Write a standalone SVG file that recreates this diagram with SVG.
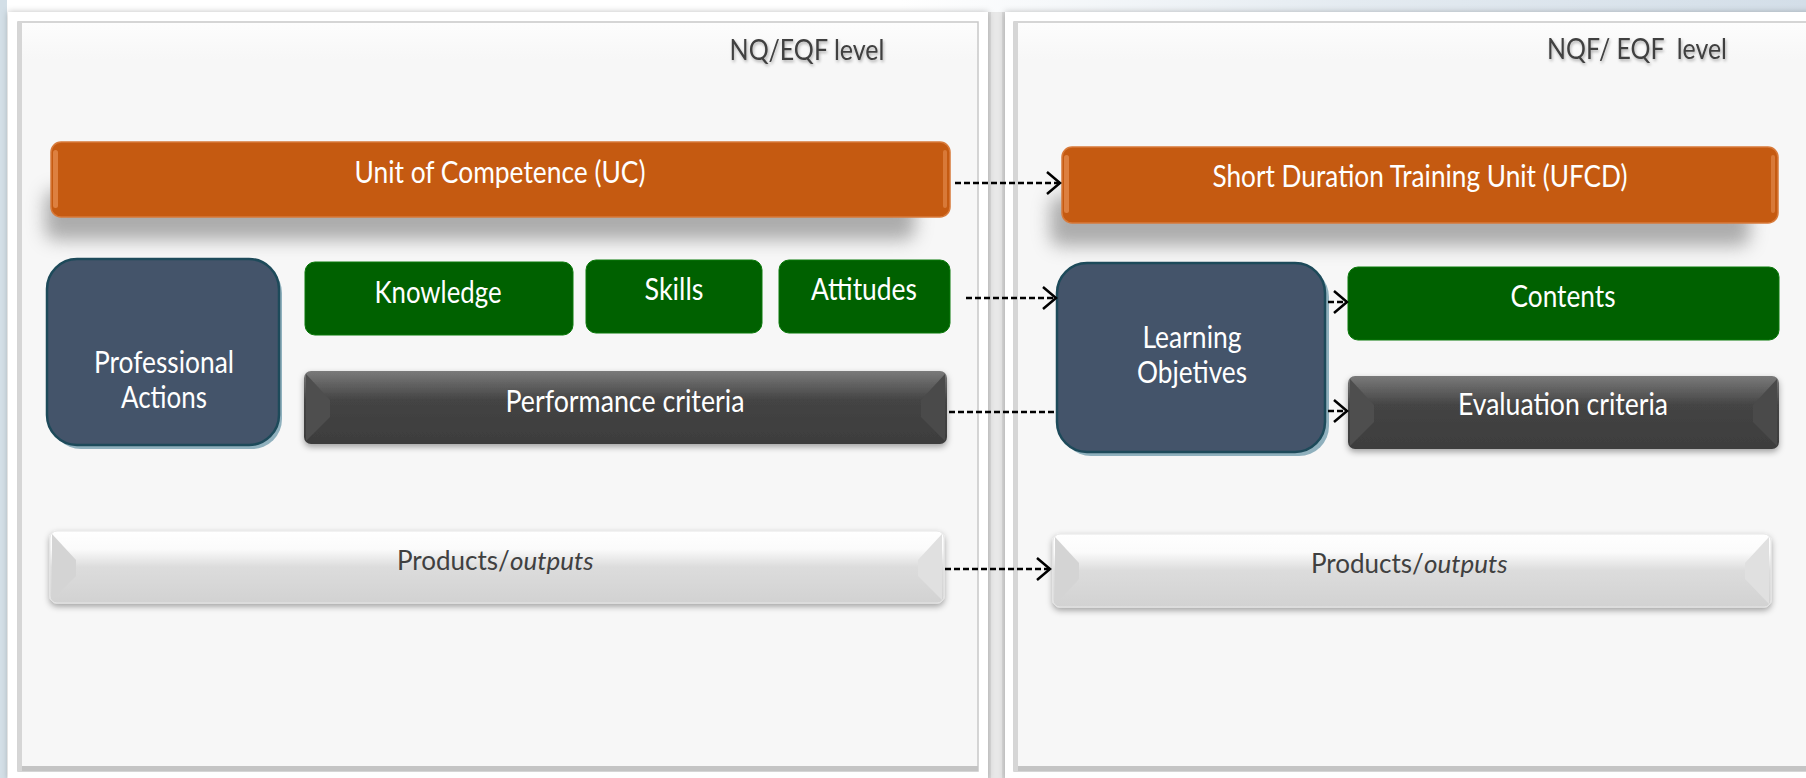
<svg xmlns="http://www.w3.org/2000/svg" width="1806" height="778" viewBox="0 0 1806 778">
<style>
.t{font-family:Lato,"Open Sans","Liberation Sans",sans-serif;text-anchor:middle;}
.s{font-family:Lato,"Open Sans","Liberation Sans",sans-serif;text-anchor:start;}
.w{fill:#ffffff;font-size:30px;}
.g{fill:#404040;font-size:26px;}
.it{font-style:italic;}
.lvl{fill:#404040;font-size:28px;filter:url(#tsh);}
.conn{fill:none;stroke:#000;stroke-width:2.5;stroke-dasharray:6 3;}
.orange{fill:#c55a11;}
.green{fill:#006100;}
.slate{fill:#44546a;stroke:#1d4a5a;stroke-width:2.5;}
</style>
<defs>
<marker id="chev" markerUnits="userSpaceOnUse" markerWidth="18" markerHeight="26" refX="15" refY="12" orient="auto" viewBox="0 0 18 26">
<path d="M2,1 L15,12 L2,23" fill="none" stroke="#000" stroke-width="2.5"/>
</marker>
<filter id="blur" x="-10%" y="-50%" width="120%" height="200%"><feGaussianBlur stdDeviation="9"/></filter>
<filter id="sh" x="-5%" y="-20%" width="110%" height="150%"><feDropShadow dx="0" dy="3" stdDeviation="3" flood-color="#000" flood-opacity="0.35"/></filter>
<filter id="psh" x="-3%" y="-3%" width="106%" height="106%"><feDropShadow dx="0" dy="0" stdDeviation="3" flood-color="#000" flood-opacity="0.25"/></filter>
<filter id="tsh" x="-10%" y="-30%" width="120%" height="160%"><feDropShadow dx="1" dy="2" stdDeviation="1.5" flood-color="#000" flood-opacity="0.3"/></filter>
<linearGradient id="darkBev" x1="0" y1="0" x2="0" y2="1">
<stop offset="0" stop-color="#7a7a7a"/><stop offset="0.4" stop-color="#444"/><stop offset="1" stop-color="#3d3d3d"/>
</linearGradient>
<linearGradient id="lightBev" x1="0" y1="0" x2="0" y2="1">
<stop offset="0" stop-color="#ffffff"/><stop offset="0.25" stop-color="#fbfbfb"/><stop offset="0.5" stop-color="#dcdcdc"/><stop offset="1" stop-color="#d2d2d2"/>
</linearGradient>
<linearGradient id="inner" x1="0" y1="0" x2="0" y2="1">
<stop offset="0" stop-color="#fdfdfd"/><stop offset="0.05" stop-color="#f7f7f7"/><stop offset="1" stop-color="#f7f7f7"/>
</linearGradient>
<linearGradient id="bgTop" x1="0" y1="0" x2="1" y2="0">
<stop offset="0" stop-color="#ffffff"/><stop offset="0.5" stop-color="#e4ebf1"/><stop offset="1" stop-color="#d3dee8"/>
</linearGradient>
</defs>

<!-- background -->
<rect x="0" y="0" width="1806" height="778" fill="#ffffff"/>
<rect x="900" y="0" width="906" height="14" fill="url(#bgTop)"/>
<rect x="0" y="0" width="7" height="778" fill="#d3dfe7"/>
<rect x="987" y="12" width="19" height="766" fill="#dadada"/>
<rect x="991" y="12" width="11" height="766" fill="#e8e8e8"/>

<!-- panels -->
<g id="panel-left">
<rect x="8" y="12" width="980" height="768" fill="#ffffff" filter="url(#psh)"/>
<rect x="18" y="22" width="960" height="749" fill="url(#inner)" stroke="#c8c8c8" stroke-width="1.5"/>
<rect x="18" y="766" width="960" height="5" fill="#c4c4c4"/>
<rect x="18" y="22" width="4" height="749" fill="#d6d6d6"/>
<text class="t lvl" x="807" y="60" textLength="155" lengthAdjust="spacingAndGlyphs">NQ/EQF level</text>
</g>
<g id="panel-right">
<rect x="1005" y="12" width="810" height="768" fill="#ffffff" filter="url(#psh)"/>
<rect x="1014" y="22" width="800" height="749" fill="url(#inner)" stroke="#c8c8c8" stroke-width="1.5"/>
<rect x="1014" y="766" width="800" height="5" fill="#c4c4c4"/>
<rect x="1014" y="22" width="4" height="749" fill="#d6d6d6"/>
<text class="t lvl" x="1637" y="59" textLength="180" lengthAdjust="spacingAndGlyphs" xml:space="preserve">NQF/ EQF  level</text>
</g>

<!-- nodes -->
<g id="uc">
<rect x="45" y="190" width="870" height="50" rx="10" fill="#8c8c8c" opacity="0.7" filter="url(#blur)"/>
<rect x="51" y="142" width="899" height="75" rx="10" class="orange" stroke="#d87a3a" stroke-width="1.5"/>
<rect x="53" y="150" width="5" height="58" rx="2.5" fill="#f0a068" opacity="0.55"/>
<rect x="943" y="150" width="4" height="58" rx="2" fill="#f0a068" opacity="0.45"/>
<text class="t w" x="500" y="183" textLength="291" lengthAdjust="spacingAndGlyphs">Unit of Competence (UC)</text>
</g>

<g id="ufcd">
<rect x="1050" y="196" width="700" height="50" rx="10" fill="#8c8c8c" opacity="0.7" filter="url(#blur)"/>
<rect x="1062" y="147" width="716" height="76" rx="10" class="orange" stroke="#d87a3a" stroke-width="1.5"/>
<rect x="1064" y="155" width="5" height="58" rx="2.5" fill="#f0a068" opacity="0.55"/>
<rect x="1771" y="155" width="4" height="58" rx="2" fill="#f0a068" opacity="0.45"/>
<text class="t w" x="1420" y="187" textLength="415" lengthAdjust="spacingAndGlyphs">Short Duration Training Unit (UFCD)</text>
</g>

<g id="professional-actions">
<rect x="51" y="263" width="231" height="186" rx="30" fill="#8fb0bd"/>
<rect x="47" y="259" width="232" height="186" rx="30" class="slate"/>
<text class="t w" x="164" y="373" textLength="140" lengthAdjust="spacingAndGlyphs">Professional</text>
<text class="t w" x="164" y="408" textLength="86" lengthAdjust="spacingAndGlyphs">Actions</text>
</g>

<g id="knowledge">
<rect x="305" y="262" width="268" height="73" rx="10" class="green" stroke="#0a7a0a" stroke-width="1"/>
<text class="t w" x="438" y="303" textLength="127" lengthAdjust="spacingAndGlyphs">Knowledge</text>
</g>
<g id="skills">
<rect x="586" y="260" width="176" height="73" rx="10" class="green" stroke="#0a7a0a" stroke-width="1"/>
<text class="t w" x="674" y="300" textLength="59" lengthAdjust="spacingAndGlyphs">Skills</text>
</g>
<g id="attitudes">
<rect x="779" y="260" width="171" height="73" rx="10" class="green" stroke="#0a7a0a" stroke-width="1"/>
<text class="t w" x="864" y="300" textLength="106" lengthAdjust="spacingAndGlyphs">Attitudes</text>
</g>

<g id="performance-criteria">
<g filter="url(#sh)">
<rect x="304" y="371" width="643" height="73" rx="7" fill="url(#darkBev)"/>
</g>
<polygon points="306,374 330,400 330,417 306,441" fill="#4e4e4e"/>
<polygon points="945,374 921,400 921,417 945,441" fill="#4a4a4a"/>
<text class="t w" x="625" y="412" textLength="239" lengthAdjust="spacingAndGlyphs">Performance criteria</text>
</g>

<g id="products-left">
<g filter="url(#sh)">
<rect x="50" y="531" width="894" height="72" rx="7" fill="url(#lightBev)" stroke="#e6e6e6" stroke-width="1"/>
</g>
<polygon points="52,534 76,560 76,576 52,600" fill="#d4d4d4"/>
<polygon points="942,534 918,560 918,576 942,600" fill="#e0e0e0"/>
<text class="s g" x="397" y="570">Products/</text>
<text class="s g it" x="510" y="570">outputs</text>
</g>

<g id="learning-objetives">
<rect x="1061" y="267" width="268" height="189" rx="30" fill="#8fb0bd"/>
<rect x="1057" y="263" width="268" height="189" rx="30" class="slate"/>
<text class="t w" x="1192" y="348" textLength="99" lengthAdjust="spacingAndGlyphs">Learning</text>
<text class="t w" x="1192" y="383" textLength="110" lengthAdjust="spacingAndGlyphs">Objetives</text>
</g>

<g id="contents">
<rect x="1348" y="267" width="431" height="73" rx="10" class="green" stroke="#0a7a0a" stroke-width="1"/>
<text class="t w" x="1563" y="307" textLength="105" lengthAdjust="spacingAndGlyphs">Contents</text>
</g>

<g id="evaluation-criteria">
<g filter="url(#sh)">
<rect x="1348" y="376" width="431" height="73" rx="7" fill="url(#darkBev)"/>
</g>
<polygon points="1350,379 1374,405 1374,422 1350,446" fill="#4e4e4e"/>
<polygon points="1777,379 1753,405 1753,422 1777,446" fill="#4a4a4a"/>
<text class="t w" x="1563" y="415" textLength="210" lengthAdjust="spacingAndGlyphs">Evaluation criteria</text>
</g>

<g id="products-right">
<g filter="url(#sh)">
<rect x="1053" y="534" width="718" height="73" rx="7" fill="url(#lightBev)" stroke="#e6e6e6" stroke-width="1"/>
</g>
<polygon points="1055,537 1079,563 1079,579 1055,604" fill="#d4d4d4"/>
<polygon points="1769,537 1745,563 1745,579 1769,604" fill="#e0e0e0"/>
<text class="s g" x="1311" y="573">Products/</text>
<text class="s g it" x="1424" y="573">outputs</text>
</g>

<!-- connectors -->
<g id="connectors">
<path class="conn" d="M955,183 L1060,183" marker-end="url(#chev)"/>
<path class="conn" d="M966,298 L1056,298" marker-end="url(#chev)"/>
<path class="conn" d="M949,412 L1057,412"/>
<path class="conn" d="M945,569 L1050,569" marker-end="url(#chev)"/>
<path class="conn" d="M1328,302 L1347,302" marker-end="url(#chev)"/>
<path class="conn" d="M1328,411 L1347,411" marker-end="url(#chev)"/>
</g>
</svg>
